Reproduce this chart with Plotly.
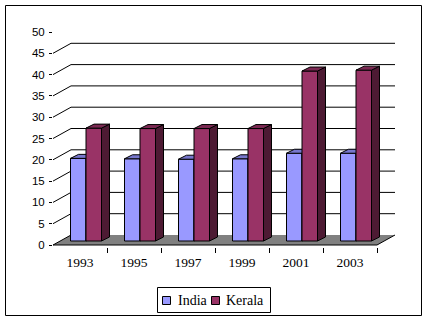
import plotly.graph_objects as go

# ---- data ----
years = ["1993", "1995", "1997", "1999", "2001", "2003"]
india = [19.4, 19.3, 19.2, 19.3, 20.6, 20.6]
kerala = [26.5, 26.4, 26.4, 26.4, 39.9, 40.1]
y_ticks = [0, 5, 10, 15, 20, 25, 30, 35, 40, 45, 50]
series_names = ["India", "Kerala"]

# ---- geometry (pixels -> data units) ----
W, H = 429, 322
L, R, T, B = 53, 395, 32, 247
PXX = 54.0                      # px per category
PPY = (245 - 32) / 50.0         # px per value unit
x_range = [-0.5, -0.5 + (R - L) / PXX]
y_range = [-(B - 245) / PPY, 50]

back_dx, back_dy = 18 / PXX, 10 / PPY      # depth of the wall / floor
front_dx, front_dy = 6 / PXX, 4 / PPY      # bar front face offset
bar_dx, bar_dy = 8 / PXX, 4 / PPY          # bar depth
bw = 15.5 / PXX                            # bar width

SERIF = "Liberation Serif, Times New Roman, serif"
SANS = "Liberation Sans, Arial, sans-serif"

n = len(years)
xs = list(range(n))

styles = [
    (-1, "#9999FF", "#7777CC", "#5C5C99"),
    (1, "#993366", "#7A2952", "#4D1A33"),
]

fig = go.Figure()
z = 1
for name, vals, (side, c_front, c_top, c_side) in zip(series_names, [india, kerala], styles):
    centers = [i + front_dx + side * bw / 2 for i in xs]
    fig.add_trace(go.Bar(
        x=centers, y=vals, base=[front_dy] * n, width=bw, name=name,
        marker=dict(color=c_front, line=dict(color="black", width=1)),
        zorder=z, showlegend=False,
    ))
    z += 1
    tx, ty, sx, sy = [], [], [], []
    for c, v in zip(centers, vals):
        xl, xr = c - bw / 2, c + bw / 2
        top = front_dy + v
        tx += [xl, xr, xr + bar_dx, xl + bar_dx, xl, None]
        ty += [top, top, top + bar_dy, top + bar_dy, top, None]
        sx += [xr, xr + bar_dx, xr + bar_dx, xr, xr, None]
        sy += [front_dy, front_dy + bar_dy, top + bar_dy, top, front_dy, None]
    fig.add_trace(go.Scatter(x=sx, y=sy, mode="lines", fill="toself",
                             fillcolor=c_side, line=dict(color="black", width=1),
                             showlegend=False, hoverinfo="skip", zorder=z))
    fig.add_trace(go.Scatter(x=tx, y=ty, mode="lines", fill="toself",
                             fillcolor=c_top, line=dict(color="black", width=1),
                             showlegend=False, hoverinfo="skip", zorder=z))
    z += 1

shapes = []
x0, x1 = -0.5, n - 0.5
# floor
shapes.append(dict(type="path", xref="x", yref="y", layer="below",
                   path=f"M{x0},0 L{x1},0 L{x1 + back_dx},{back_dy} L{x0 + back_dx},{back_dy} Z",
                   fillcolor="#808080", line=dict(width=0)))
# back wall gridlines and side diagonals
for v in y_ticks:
    if v == y_ticks[-1]:
        continue
    if v > 0:
        shapes.append(dict(type="line", xref="x", yref="y", layer="below",
                           x0=x0 + back_dx, x1=x1 + back_dx, y0=v + back_dy, y1=v + back_dy,
                           line=dict(color="black", width=1)))
    shapes.append(dict(type="line", xref="x", yref="y", layer="below",
                       x0=x0, x1=x0 + back_dx, y0=v, y1=v + back_dy,
                       line=dict(color="black", width=1)))
# floor right edge
shapes.append(dict(type="line", xref="x", yref="y", layer="below",
                   x0=x1, x1=x1 + back_dx, y0=0, y1=back_dy,
                   line=dict(color="black", width=1)))
# front x-axis line
shapes.append(dict(type="line", xref="x", yref="y", layer="above",
                   x0=x0, x1=x1, y0=0, y1=0, line=dict(color="black", width=1)))


# paper px -> paper fraction
def px_x(p):
    return (p - L) / (R - L)


def px_y(p):
    return (B - p) / (B - T)


# outer border
shapes.append(dict(type="rect", xref="paper", yref="paper",
                   x0=px_x(5.5), x1=px_x(421.5), y0=px_y(315.5), y1=px_y(5.5),
                   line=dict(color="black", width=1), fillcolor="rgba(0,0,0,0)"))

# legend box, swatches and labels
annotations = []
shapes.append(dict(type="rect", xref="paper", yref="paper",
                   x0=px_x(157.5), x1=px_x(270.5), y0=px_y(312.5), y1=px_y(287.5),
                   line=dict(color="black", width=1), fillcolor="white"))
legend_sw_x = [162.5, 211.5]
legend_tx_x = [175.5, 223.5]
for name, (side, c_front, c_top, c_side), sxp, txp in zip(series_names, styles, legend_sw_x, legend_tx_x):
    shapes.append(dict(type="rect", xref="paper", yref="paper",
                       x0=px_x(sxp), x1=px_x(sxp + 8), y0=px_y(304.5), y1=px_y(296.5),
                       line=dict(color="black", width=1), fillcolor=c_front))
    annotations.append(dict(xref="paper", yref="paper", x=px_x(txp), y=px_y(300.5),
                            xanchor="left", yanchor="middle", text=name, showarrow=False,
                            font=dict(family=SERIF, size=14, color="black")))

fig.update_layout(
    width=W, height=H,
    margin=dict(l=L, r=W - R, t=T, b=H - B, autoexpand=False),
    paper_bgcolor="white", plot_bgcolor="rgba(0,0,0,0)",
    barmode="overlay",
    shapes=shapes,
    annotations=annotations,
    showlegend=False,
    xaxis=dict(range=x_range, tickvals=xs, ticktext=years, ticks="outside",
               ticklen=3, tickcolor="rgba(0,0,0,0)",
               tickfont=dict(family=SERIF, size=13.5, color="black"),
               showgrid=False, zeroline=False, showline=False, fixedrange=True,
               minor=dict(tickvals=[i + 0.5 for i in xs], ticks="outside", ticklen=5,
                          tickcolor="black", tickwidth=1, showgrid=False)),
    yaxis=dict(range=y_range, tickvals=y_ticks, ticks="outside", ticklen=3,
               tickcolor="black", showline=True, linecolor="black", linewidth=1,
               ticklabelstandoff=2,
               tickfont=dict(family=SANS, size=11.5, color="black"),
               showgrid=False, zeroline=False, fixedrange=True),
)

fig.write_html("out.html")
